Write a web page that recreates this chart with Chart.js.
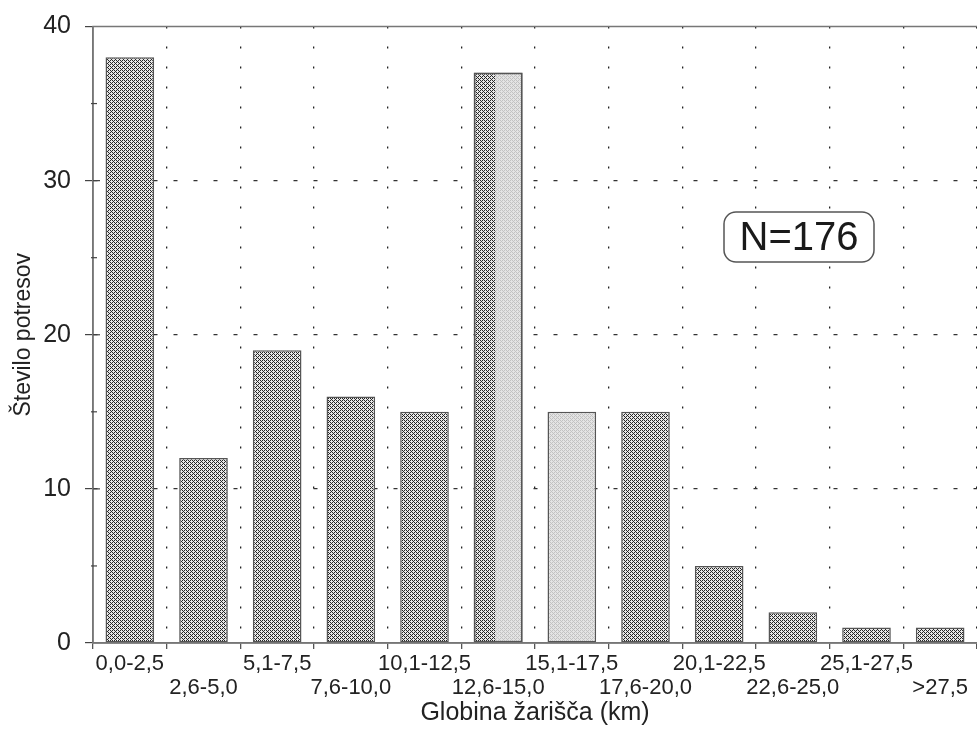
<!DOCTYPE html>
<html>
<head>
<meta charset="utf-8">
<script src="https://cdn.jsdelivr.net/npm/chart.js@4/dist/chart.umd.min.js"></script>
<style>
  html, body { margin: 0; padding: 0; background: #fff; }
  #wrap { width: 977px; height: 732px; }
</style>
</head>
<body>
<div id="wrap"><canvas id="chart" width="977" height="732"></canvas></div>
<script>
// Depth classes (km) and number of earthquakes
const depthClasses = ["0,0-2,5", "2,6-5,0", "5,1-7,5", "7,6-10,0", "10,1-12,5", "12,6-15,0",
  "15,1-17,5", "17,6-20,0", "20,1-22,5", "22,6-25,0", "25,1-27,5", ">27,5"];
const quakeCounts = [38, 12, 19, 16, 15, 37, 15, 15, 5, 2, 1, 1];
const yTickValues = [0, 10, 20, 30, 40];
const minorTickValues = [5, 15, 25, 35];
const lightBars = [6];
const splitBars = [5];
const totalLabel = "N=176";

// Stipple fill patterns
function makePattern(bg, fg, dots) {
  const c = document.createElement("canvas");
  c.width = 4;
  c.height = 4;
  const g = c.getContext("2d");
  g.fillStyle = bg;
  g.fillRect(0, 0, 4, 4);
  g.fillStyle = fg;
  dots.forEach(([x, y]) => g.fillRect(x, y, 1, 1));
  return g.createPattern(c, "repeat");
}
const stipple = [[0, 0], [1, 1], [2, 2], [3, 3], [2, 0], [0, 2]];
const darkFill = makePattern("#e8e8e8", "#262626", stipple);
const lightFill = makePattern("#e4e4e4", "#c2c2c2", stipple);

// Extra decorations: frame lines, y ticks inside, split bar, N box
const decorations = {
  id: "decorations",
  afterDatasetsDraw(chart) {
    const ctx = chart.ctx;
    const meta = chart.getDatasetMeta(0);
    splitBars.forEach((i) => {
      const bar = meta.data[i];
      const left = bar.x - bar.width / 2;
      const top = Math.min(bar.y, bar.base);
      const h = Math.abs(bar.base - bar.y);
      ctx.save();
      ctx.fillStyle = lightFill;
      ctx.fillRect(left + bar.width * 0.44, top + 1, bar.width * 0.56 - 1, h - 1);
      ctx.strokeStyle = "#555";
      ctx.lineWidth = 1.5;
      ctx.strokeRect(left + 0.75, top + 0.75, bar.width - 1.5, h - 1.5);
      ctx.restore();
    });
  },
  afterDraw(chart) {
    const ctx = chart.ctx;
    const area = chart.chartArea;
    const y = chart.scales.y;
    ctx.save();
    ctx.setLineDash([]);
    ctx.strokeStyle = "#777";
    ctx.lineWidth = 1.5;
    ctx.beginPath();
    ctx.moveTo(area.right, area.top);
    ctx.lineTo(area.left, area.top);
    ctx.lineTo(area.left, area.bottom);
    ctx.lineTo(area.right, area.bottom);
    ctx.stroke();
    ctx.strokeStyle = "#444";
    ctx.lineWidth = 1.2;
    yTickValues.slice(1, -1).forEach((v) => {
      const py = y.getPixelForValue(v);
      ctx.beginPath();
      ctx.moveTo(area.left, py);
      ctx.lineTo(area.left + 7, py);
      ctx.stroke();
    });
    minorTickValues.forEach((v) => {
      const py = y.getPixelForValue(v);
      ctx.beginPath();
      ctx.moveTo(area.left - 2, py);
      ctx.lineTo(area.left + 4, py);
      ctx.stroke();
    });
    // N box
    const bx = 724, by = 212, bw = 150, bh = 50;
    ctx.fillStyle = "#fff";
    ctx.strokeStyle = "#555";
    ctx.lineWidth = 1.5;
    ctx.beginPath();
    ctx.roundRect(bx, by, bw, bh, 12);
    ctx.fill();
    ctx.stroke();
    ctx.fillStyle = "#1a1a1a";
    ctx.font = "40px 'Liberation Sans', Arial, sans-serif";
    ctx.textAlign = "center";
    ctx.textBaseline = "middle";
    ctx.fillText(totalLabel, bx + bw / 2, by + bh / 2 + 2);
    ctx.restore();
  },
};

const fontFamily = "'Liberation Sans', Arial, sans-serif";

new Chart(document.getElementById("chart"), {
  type: "bar",
  data: {
    labels: depthClasses,
    datasets: [
      {
        data: quakeCounts,
        backgroundColor: quakeCounts.map((v, i) => (lightBars.includes(i) ? lightFill : darkFill)),
        borderColor: "#555",
        borderWidth: 1.5,
        borderSkipped: false,
        categoryPercentage: 1,
        barPercentage: 0.66,
      },
    ],
  },
  options: {
    responsive: false,
    animation: false,
    layout: { padding: { top: 14, right: 0, bottom: 4, left: 4 } },
    plugins: {
      legend: { display: false },
      tooltip: { enabled: false },
    },
    scales: {
      x: {
        offset: true,
        grid: {
          offset: true,
          color: (c) => (c.index === 0 || c.index >= depthClasses.length ? "transparent" : "#222"),
          lineWidth: 1.3,
          tickColor: "#555",
          tickLength: 6,
        },
        border: { color: "#777", width: 1.5, dash: [2, 18] },
        ticks: {
          autoSkip: false,
          maxRotation: 0,
          minRotation: 0,
          padding: 3,
          color: "#222",
          font: { family: fontFamily, size: 22, lineHeight: 1.1 },
          callback: (v, i) => (i % 2 ? ["", depthClasses[i]] : depthClasses[i]),
        },
        title: {
          display: true,
          text: "Globina žarišča (km)",
          color: "#222",
          font: { family: fontFamily, size: 25 },
          padding: { top: 0, bottom: 0 },
        },
        afterFit: (s) => { s.height = 85; },
      },
      y: {
        min: 0,
        max: 40,
        afterBuildTicks: (s) => { s.ticks = yTickValues.map((v) => ({ value: v })); },
        grid: {
          color: (c) => (c.tick && (c.tick.value === 0 || c.tick.value === 40) ? "transparent" : "#333"),
          lineWidth: 1.2,
          tickColor: "#444",
          tickLength: 8,
        },
        border: { color: "#777", width: 1.5, dash: [4, 16] },
        ticks: {
          padding: 14,
          color: "#222",
          font: { family: fontFamily, size: 25, lineHeight: 1 },
        },
        title: {
          display: true,
          text: "Število potresov",
          color: "#222",
          font: { family: fontFamily, size: 23 },
          padding: { top: 6, bottom: 0 },
        },
        afterFit: (s) => { s.width = 89; },
      },
    },
  },
  plugins: [decorations],
});
</script>
</body>
</html>
